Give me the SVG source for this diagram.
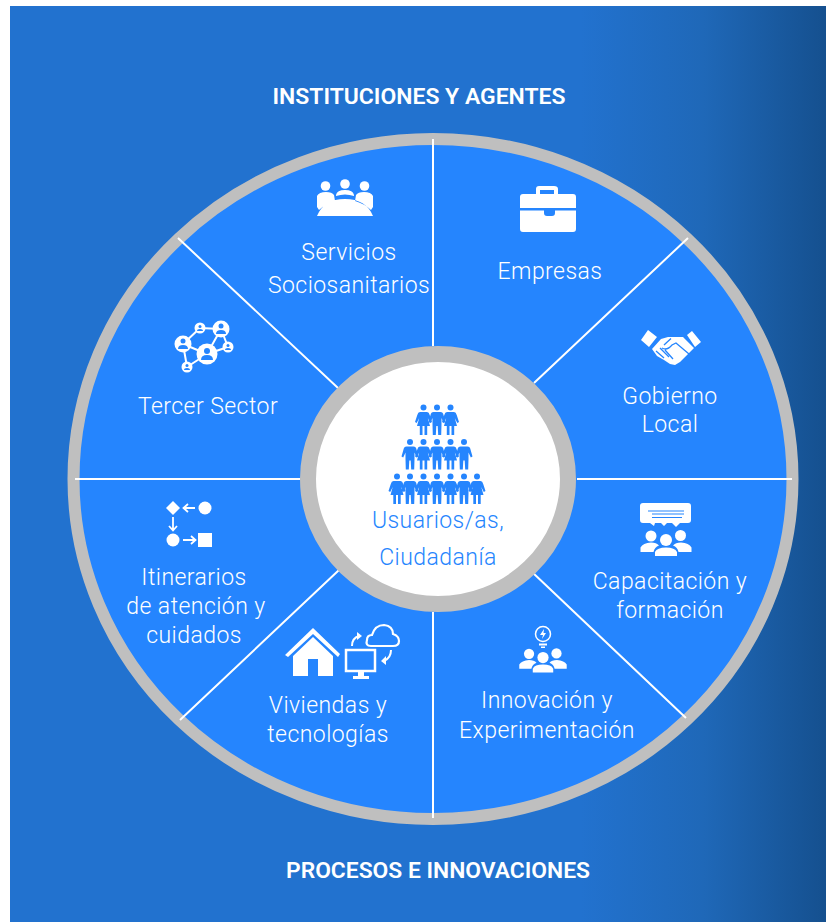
<svg xmlns="http://www.w3.org/2000/svg" width="826" height="922" viewBox="0 0 826 922">
<style>
.t{font-family:Roboto,"Liberation Sans",sans-serif;font-weight:300;font-size:23px;fill:#fff;text-anchor:middle;letter-spacing:.45px}
.h{font-family:Roboto,"Liberation Sans",sans-serif;font-weight:600;font-size:22.5px;fill:#fff;text-anchor:middle}
.u{fill:#2585fe}
.l{stroke:#fff;stroke-width:2;fill:none}
.w{fill:#fff}
.s{fill:none;stroke:#2585fe;stroke-width:1.300}
</style>
<defs>
<linearGradient id="bg" x1="0" x2="1" y1="0" y2="0"><stop offset="0" stop-color="#2272cf"/><stop offset=".7" stop-color="#2272cf"/><stop offset=".85" stop-color="#1f68b8"/><stop offset="1" stop-color="#15508f"/></linearGradient>
<g id="m"><circle cx="0" cy="-13.500" r="3"/><path d="M-3.500-9H3.500Q6-9 6.500-6L8.500 1 6.800 2 4.500-3V3.500L4.200 14H1.200L.7 5H-.7L-1.200 14H-4.200L-4.500 3.500V-3L-6.800 2-8.500 1-6.500-6Q-6-9-3.500-9Z"/></g>
<g id="f"><circle cx="0" cy="-13.500" r="3"/><path d="M-3.500-9H3.500Q5.500-9 6.200-6L8.500 1 6.800 2 4.300-3 6.500 5H3.700V14H1V5H-1V14H-3.700V5H-6.500L-4.300-3-6.800 2-8.500 1-6.200-6Q-5.500-9-3.500-9Z"/></g>
<g id="p3"><circle cx="-15" cy="-12" r="5.500"/><circle cx="14.500" cy="-12.500" r="5.500"/><circle cx="0" cy="-8" r="6"/>
<path d="M-25.500 4V-.5Q-23-5-15-5.500-9.500-5.500-7-2.500-11.500-1-12.500 4ZM25.500 4V-.5Q23-5 15-5.500 9.500-5.500 7-2.500 11.500-1 12.500 4ZM-11 8V4Q-9-.5 0-.5 9-.5 11 4V8Z"/></g>
</defs>
<rect x="10" y="6" width="816" height="916" fill="url(#bg)"/>
<g id="wheel">
<ellipse cx="433" cy="479" rx="359.500" ry="340" fill="#2585fe" stroke="#bfbfbf" stroke-width="12"/>
</g>
<g id="connectors">
<path class="l" d="M433 139V346M433 612V818M75 479H300M577 479H792M178 238L338 388M688 238L534 383M180 720L339 570M686 718L532 572"/>
</g>
<g id="centro">
<ellipse cx="438" cy="479" rx="130" ry="125" fill="#fff" stroke="#bfbfbf" stroke-width="16"/>
<g class="u">
<use href="#f" x="423.500" y="421"/><use href="#m" x="437" y="421"/><use href="#f" x="450.500" y="421"/>
<use href="#m" x="410" y="455.500"/><use href="#f" x="423.500" y="455.500"/><use href="#m" x="437" y="455.500"/><use href="#f" x="450.500" y="455.500"/><use href="#m" x="464" y="455.500"/>
<use href="#f" x="397" y="490"/><use href="#m" x="410" y="490"/><use href="#f" x="423.500" y="490"/><use href="#m" x="437" y="490"/><use href="#f" x="450.500" y="490"/><use href="#m" x="464" y="490"/><use href="#f" x="477" y="490"/>
</g>
<text class="t" x="438" y="528" style="fill:#2585fe">Usuarios/as,</text>
<text class="t" x="438" y="565" style="fill:#2585fe">Ciudadanía</text>
</g>
<g id="titulo-superior"><text class="h" x="419" y="104" textLength="293" lengthAdjust="spacingAndGlyphs">INSTITUCIONES Y AGENTES</text></g>
<g id="titulo-inferior"><text class="h" x="438" y="878" textLength="304" lengthAdjust="spacingAndGlyphs">PROCESOS E INNOVACIONES</text></g>
<g id="servicios">
<g class="w"><circle cx="325.500" cy="186" r="4.800"/><circle cx="345" cy="184" r="4.800"/><circle cx="364.500" cy="186" r="4.800"/>
<path d="M317 207V196Q319 192 326 192 332 192 334 195L335 201Q325 204 319 210ZM373 207V196Q371 192 364 192 358 192 356 195L355 201Q365 204 371 210ZM336 195Q337 190 345 190 353 190 354 195V196Q345 193 336 196ZM317 216Q324 199 345 199 366 199 373 216Z"/></g>
<text class="t" x="349" y="260">Servicios</text><text class="t" x="349" y="293">Sociosanitarios</text>
</g>
<g id="empresas">
<path class="w" d="M536 194V189Q536 186 539 186H554Q558 186 558 189V194H573Q576 194 576 197V208H520V197Q520 194 523 194ZM540 194H554V190H540Z" fill-rule="evenodd"/>
<path class="w" d="M520 210.500H544V213Q544 216 547 216H552Q555 216 555 213V210.500H576V229Q576 232 573 232H523Q520 232 520 229Z"/>
<text class="t" x="550" y="279">Empresas</text>
</g>
<g id="gobierno">
<path class="w" d="M641 340L648 330 657 337 649 347ZM701 342L692 331 687 335 695 347ZM652 349L661 339 668 337H683L694 348 680 362 675 365 670 364 664 360 657 356Z"/>
<path class="s" d="M662 348Q667 351 672 345L676 343 689 354M664 345L671 338.500M656 351L664 358M660 348L669 357M665 350L673 359"/>
<text class="t" x="670" y="404">Gobierno</text><text class="t" x="670" y="432">Local</text>
</g>
<g id="capacitacion">
<path class="w" d="M643 503H688Q691 503 691 506V520Q691 523 688 523H680L676 527 672 523H667L664 526 661 523H655L654 526 650 523H643Q640 523 640 520V506Q640 503 643 503Z"/>
<path d="M648 511H684M652 514H684M652 517.500H682" style="stroke:#2585fe;stroke-width:1.200" fill="none"/>
<use class="w" href="#p3" x="666" y="548"/>
<text class="t" x="670" y="589">Capacitación y</text><text class="t" x="670" y="618">formación</text>
</g>
<g id="innovacion">
<circle cx="543" cy="634" r="7.500" fill="none" stroke="#fff" stroke-width="1.500"/>
<path class="w" d="M544 629L540 635H543L542 639 546 633H543.500ZM539 643.500H547V645.500H539ZM541 646.500H545V648H541Z"/>
<use class="w" href="#p3" transform="translate(543 665) scale(.93)"/>
<text class="t" x="547" y="708">Innovación y</text><text class="t" x="547" y="738">Experimentación</text>
</g>
<g id="viviendas">
<path class="w" d="M285 655L313 628 340 654 338 657 313 634 288 657ZM293 656L313 637 333 656V676H318V659H308V676H293Z"/>
<rect x="346" y="650" width="29" height="21" fill="none" stroke="#fff" stroke-width="2.500"/>
<path class="w" d="M358 672H364V676H369V679H353V676H358Z"/>
<path d="M371 646Q365 646 367 640 367 635 372 635 375 625 384 625 393 626 393 634 399 636 399 641 399 646 393 646Z" fill="none" stroke="#fff" stroke-width="2.200"/>
<path d="M352 646Q352 638 359 636M391 650Q391 658 384 661" fill="none" stroke="#fff" stroke-width="2"/>
<path class="w" d="M357 632L362 636 357 640ZM386 656L381 661 386 665Z"/>
<text class="t" x="328" y="713">Viviendas y</text><text class="t" x="328" y="742">tecnologías</text>
</g>
<g id="itinerarios">
<path class="w" d="M173 501L180 508 173 515 166 508Z"/><circle class="w" cx="205" cy="508" r="6.500"/><circle class="w" cx="173" cy="540" r="6.500"/><rect class="w" x="198" y="533" width="14" height="14"/>
<path d="M195 508H184M188 504L183.500 508 188 512M173 517V530M169 526L173 530.500 177 526M183 540H195M191 536L195.500 540 191 544" fill="none" stroke="#fff" stroke-width="1.800"/>
<text class="t" x="194" y="585">Itinerarios</text><text class="t" x="196" y="614">de atención y</text><text class="t" x="194" y="643">cuidados</text>
</g>
<g id="tercer-sector">
<g fill="none" stroke="#fff" stroke-width="2"><path d="M200 328L221 329M183 344L200 328M221 329L207 354M221 329L228 347M183 344L187 367M183 344L207 354M187 367L207 354M207 354L228 347"/></g>
<g class="w"><circle cx="221" cy="329" r="8.500"/><circle cx="183" cy="344" r="8.500"/><circle cx="207" cy="354" r="10.500"/><circle cx="200" cy="328" r="5.500"/><circle cx="228" cy="347" r="5.500"/><circle cx="187" cy="367" r="5.500"/></g>
<g class="u"><circle cx="221" cy="326" r="2.500"/><path d="M216 334Q216 330 221 330 226 330 226 334Z"/><circle cx="183" cy="341" r="2.500"/><path d="M178 349Q178 345 183 345 188 345 188 349Z"/><circle cx="207" cy="351" r="3"/><path d="M201 360Q201 355 207 355 213 355 213 360Z"/><circle cx="200" cy="326.500" r="1.500"/><path d="M197 331Q197 329 200 329 203 329 203 331Z"/><circle cx="228" cy="345.500" r="1.500"/><path d="M225 350Q225 348 228 348 231 348 231 350Z"/><circle cx="187" cy="365.500" r="1.500"/><path d="M184 370Q184 368 187 368 190 368 190 370Z"/></g>
<text class="t" x="208" y="414">Tercer Sector</text>
</g>
</svg>
